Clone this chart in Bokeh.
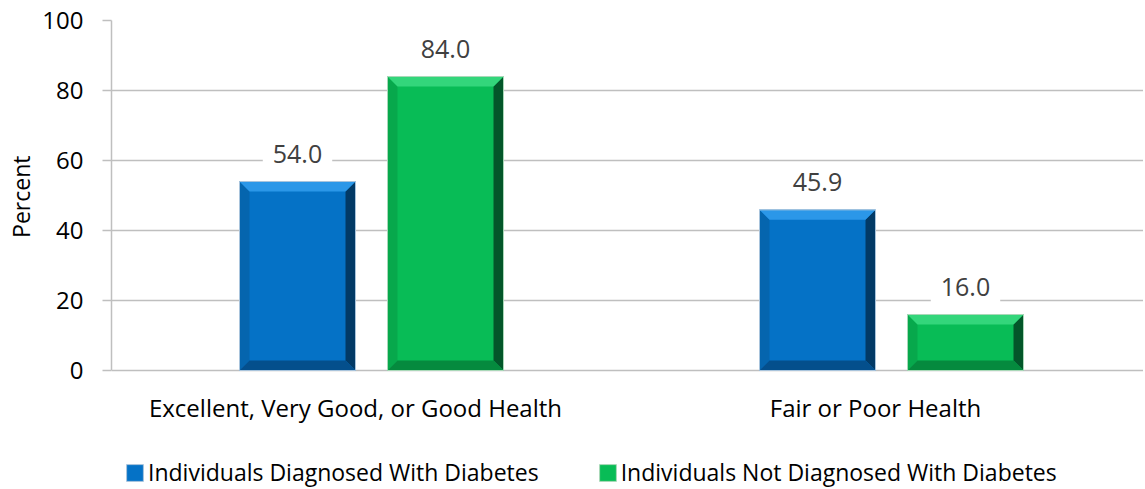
from bokeh.plotting import figure
from bokeh.models import (ColumnDataSource, Range1d, FixedTicker,
                          Legend, LegendItem, Title)
from bokeh.core.properties import value
from bokeh.embed import file_html
from bokeh.resources import INLINE

# ---- data ----
categories = ["Excellent, Very Good, or Good Health", "Fair or Poor Health"]
series_names = ["Individuals Diagnosed With Diabetes",
                "Individuals Not Diagnosed With Diabetes"]
diagnosed = [54.0, 45.9]
not_diagnosed = [84.0, 16.0]
y_ticks = [0, 20, 40, 60, 80, 100]

# ---- styling ----
FONT = "Open Sans"
PX_PER_CAT = 520.0
PX_PER_PCT = 3.5
FRAME_H = 468
bar_w = 116 / PX_PER_CAT
offset = 74 / PX_PER_CAT
bev_x = 10 / PX_PER_CAT
bev_y = 10 / PX_PER_PCT
y_low = 100 - FRAME_H / PX_PER_PCT   # room below the axis for labels/legend

palettes = [
    dict(main="#0572C6", top="#2B97E8", left="#0565AE", right="#023A66",
         bottom="#044F8C", outline="#A9C4DC"),
    dict(main="#08BC56", top="#33D67B", left="#07A84C", right="#03562A",
         bottom="#058A3E", outline="#A9D8B8"),
]

p = figure(frame_width=1032, frame_height=FRAME_H, output_backend="svg",
           toolbar_location=None,
           x_range=Range1d(0, 1032 / PX_PER_CAT), y_range=Range1d(y_low, 100),
           min_border_left=105, min_border_right=0, min_border_top=20,
           min_border_bottom=0)
p.outline_line_color = None
p.background_fill_color = "white"

series_vals = [diagnosed, not_diagnosed]
main_renderers = []
for s, vals in enumerate(series_vals):
    pal = palettes[s]
    sign = -1 if s == 0 else 1
    xc = [i + 0.5 + sign * offset for i in range(len(categories))]
    x0 = [c - bar_w / 2 for c in xc]
    x1 = [c + bar_w / 2 for c in xc]
    src = ColumnDataSource(dict(left=x0, right=x1, top=vals,
                                bottom=[0] * len(vals), xc=xc,
                                label=[f"{v:.1f}" for v in vals]))
    r = p.quad(left="left", right="right", top="top", bottom="bottom",
               source=src, fill_color=pal["main"], line_color=pal["outline"],
               line_width=1)
    main_renderers.append(r)
    # bevel faces
    tops_x, tops_y, lefts_x, lefts_y = [], [], [], []
    rights_x, rights_y, bots_x, bots_y = [], [], [], []
    for a, b, v in zip(x0, x1, vals):
        tops_x.append([a, b, b - bev_x, a + bev_x])
        tops_y.append([v, v, v - bev_y, v - bev_y])
        bots_x.append([a, b, b - bev_x, a + bev_x])
        bots_y.append([0, 0, bev_y, bev_y])
        lefts_x.append([a, a + bev_x, a + bev_x, a])
        lefts_y.append([0, bev_y, v - bev_y, v])
        rights_x.append([b, b - bev_x, b - bev_x, b])
        rights_y.append([0, bev_y, v - bev_y, v])
    p.patches(lefts_x, lefts_y, fill_color=pal["left"], line_color=None)
    p.patches(rights_x, rights_y, fill_color=pal["right"], line_color=None)
    p.patches(bots_x, bots_y, fill_color=pal["bottom"], line_color=None)
    p.patches(tops_x, tops_y, fill_color=pal["top"], line_color=None)
    p.quad(left="left", right="right", top="top", bottom="bottom",
           source=src, fill_color=None, line_color=pal["outline"], line_width=1)

    p.text(x="xc", y="top", text="label", source=src,
           text_align="center", text_baseline="middle",
           y_offset=-28, text_font=value(FONT), text_font_size="25px",
           text_color="#404040", background_fill_color="white",
           padding=10)

# category labels under the baseline
tick_pos = [i + 0.5 - 16 / PX_PER_CAT for i in range(len(categories))]
cat_src = ColumnDataSource(dict(x=tick_pos, y=[0] * len(categories),
                                text=categories))
p.text(x="x", y="y", text="text", source=cat_src, text_align="center",
       text_baseline="middle", y_offset=37, text_font=value(FONT),
       text_font_size="24px", text_color="black")

p.xaxis.visible = False

p.yaxis.ticker = FixedTicker(ticks=y_ticks)
p.yaxis.bounds = (y_ticks[0], y_ticks[-1])
p.yaxis.axis_line_color = "#BFBFBF"
p.yaxis.axis_line_width = 1.5
p.yaxis.major_tick_line_color = "#BFBFBF"
p.yaxis.major_tick_line_width = 1.5
p.yaxis.major_tick_out = 9
p.yaxis.major_tick_in = 0
p.yaxis.minor_tick_line_color = None
p.yaxis.major_label_text_font = FONT
p.yaxis.major_label_text_font_size = "24px"
p.yaxis.major_label_text_color = "black"
p.yaxis.major_label_standoff = 19

# y-axis title, placed beside the 0-100 part of the frame
ytitle = Title(text="Percent", align="right", offset=135, standoff=5,
               text_font=FONT, text_font_size="23px",
               text_font_style="normal", text_color="black")
p.add_layout(ytitle, "left")

p.xgrid.grid_line_color = None
p.ygrid.ticker = FixedTicker(ticks=y_ticks)
p.ygrid.grid_line_color = "#BFBFBF"
p.ygrid.grid_line_width = 1.5

legend = Legend(items=[LegendItem(label=n, renderers=[r])
                       for n, r in zip(series_names, main_renderers)],
                orientation="horizontal", location=(13, 0),
                glyph_width=21, glyph_height=21, label_standoff=3,
                label_height=20, spacing=58, padding=0, margin=0,
                label_text_font=FONT, label_text_font_size="23px",
                label_text_color="black", border_line_color=None,
                background_fill_alpha=0)
p.add_layout(legend, "center")

open("out.html", "w").write(file_html(p, INLINE))
